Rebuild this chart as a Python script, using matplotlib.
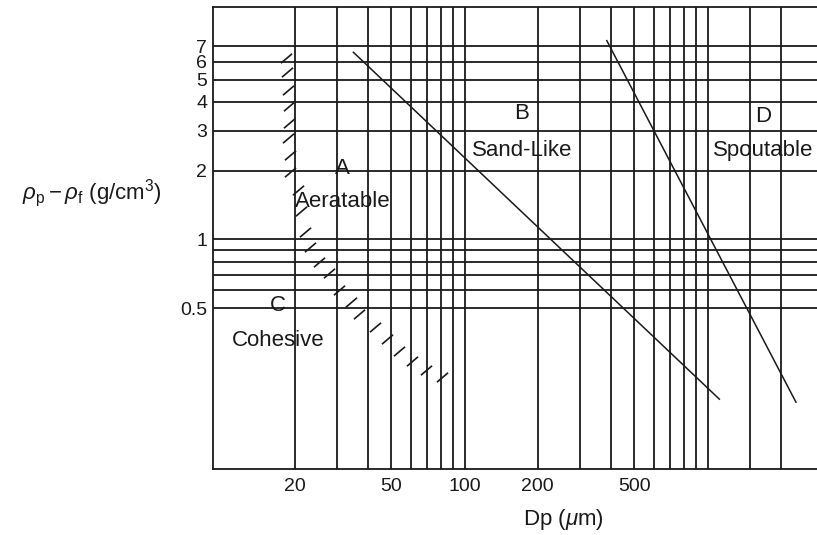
import numpy as np
import matplotlib.pyplot as plt
from matplotlib.ticker import NullLocator

plt.rcParams['font.family'] = ['Liberation Sans', 'DejaVu Sans']
plt.rcParams['mathtext.fontset'] = 'custom'
plt.rcParams['mathtext.rm'] = 'Liberation Sans'
plt.rcParams['mathtext.it'] = 'Liberation Sans:italic'

# grid lines: particle size (um) and density difference (g/cm3)
grid_dp = [20, 30, 40, 50, 60, 70, 80, 90, 100,
           200, 300, 400, 500, 600, 700, 800, 900, 1000, 1500, 2000]
grid_rho = [0.5, 0.6, 0.7, 0.8, 0.9, 1, 2, 3, 4, 5, 6, 7]
dp_ticks = [20, 50, 100, 200, 500]
rho_ticks = [0.5, 1, 2, 3, 4, 5, 6, 7]

# A/B boundary and B/D boundary
ab_dp = [34.9, 1118]
ab_rho = [6.60, 0.200]
bd_dp = [385, 2310]
bd_rho = [7.42, 0.194]

# hatched A/C boundary
ac_dp = [18.4, 18.6, 18.8, 18.9, 18.9, 18.8, 19.1, 19.1, 20.6, 21.2, 22.1, 23.1,
         25.1, 27.7, 30.4, 34.1, 36.8, 42.8, 48.0, 53.7, 60.8, 69.4, 80.8]
ac_rho = [6.23, 5.41, 4.51, 3.84, 3.24, 2.78, 2.34, 1.97, 1.65, 1.33, 1.08, 0.927,
          0.797, 0.713, 0.601, 0.532, 0.472, 0.414, 0.367, 0.325, 0.294, 0.268, 0.250]

# group labels
groups = ['A', 'B', 'C', 'D']
group_names = ['Aeratable', 'Sand-Like', 'Cohesive', 'Spoutable']
group_dp = [31.5, 172, 17.1, 1700]
letter_rho = [1.94, 3.37, 0.488, 3.27]
name_rho = [1.39, 2.32, 0.342, 2.32]

ink = '#1a1a1a'

fig = plt.figure(figsize=(8.17, 5.35), dpi=100)
ax = fig.add_axes([0.2603, 0.1228, 0.7397, 0.8636])
ax.set_xscale('log')
ax.set_yscale('log')
ax.set_xlim(9.2, 2820)
ax.set_ylim(0.0986, 10.39)

for x in grid_dp:
    ax.axvline(x, color=ink, lw=1.3, zorder=1)
for y in grid_rho:
    ax.axhline(y, color=ink, lw=1.3, zorder=1)

ax.plot(ab_dp, ab_rho, color=ink, lw=1.1, zorder=2)
ax.plot(bd_dp, bd_rho, color=ink, lw=1.1, zorder=2)

# short slash marks along the A/C boundary
hatch = [(-1, -0.85), (1, 0.85)]
ax.plot(ac_dp, ac_rho, linestyle='none', marker=hatch, markersize=8,
        markerfacecolor='none', markeredgecolor=ink, markeredgewidth=1.2, zorder=2)

for g, name, x, y1, y2 in zip(groups, group_names, group_dp, letter_rho, name_rho):
    ax.text(x, y1, g, ha='center', va='baseline', fontsize=16, color=ink)
    ax.text(x, y2, name, ha='center', va='baseline', fontsize=16, color=ink)

ax.xaxis.set_minor_locator(NullLocator())
ax.yaxis.set_minor_locator(NullLocator())
ax.set_xticks(dp_ticks)
ax.set_xticklabels([str(v) for v in dp_ticks])
ax.set_yticks(rho_ticks)
ax.set_yticklabels([str(v) for v in rho_ticks])
ax.tick_params(axis='both', length=0, labelsize=14, colors=ink)
ax.tick_params(axis='x', pad=6)
ax.tick_params(axis='y', pad=4)

ax.spines['right'].set_visible(False)
for s in ['left', 'bottom', 'top']:
    ax.spines[s].set_linewidth(1.3)
    ax.spines[s].set_color(ink)

fig.text(22 / 817, 1 - 193 / 535, r'$\rho_{\rm p} - \rho_{\rm f}$ (g/cm$^3$)',
         ha='left', va='center', fontsize=16, color=ink)
fig.text(563 / 817, 1 - 519 / 535, r'Dp ($\mu$m)',
         ha='center', va='center', fontsize=16, color=ink)

fig.savefig('out.png', dpi=100)
